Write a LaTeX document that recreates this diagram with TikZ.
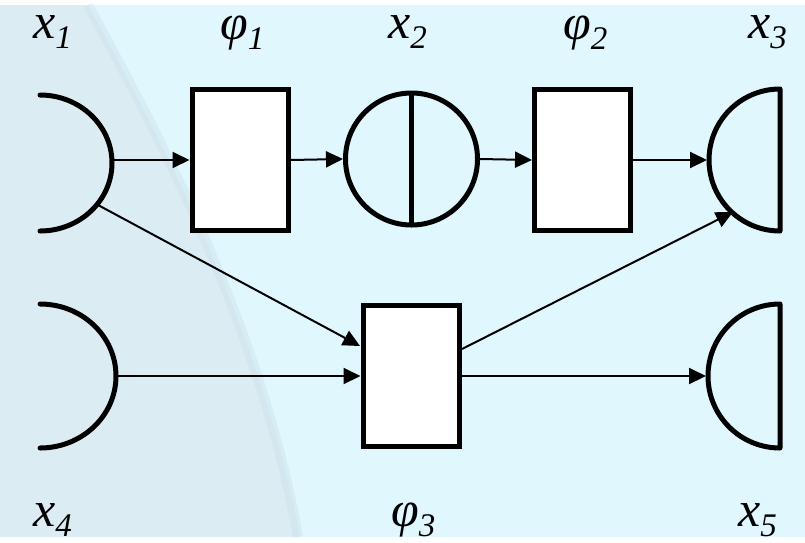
\documentclass[tikz,border=0pt]{standalone}
\usepackage{fontspec}
\setmainfont{Liberation Serif}
\usetikzlibrary{arrows.meta}
\definecolor{bgcyan}{RGB}{223,247,253}
\definecolor{moon}{RGB}{219,237,243}
\definecolor{moonedge}{RGB}{196,216,228}
\newcommand{\mylab}[2]{{\fontsize{50}{50}\selectfont\itshape #1\raisebox{-10pt}{\fontsize{33}{33}\selectfont #2}}}
\begin{document}
\begin{tikzpicture}[x=1pt,y=-1pt,
  proc/.style={draw,fill=white,rectangle,line width=5pt,minimum width=96pt,minimum height=141pt,inner sep=0pt},
  mid/.style={draw,circle,line width=5pt,minimum size=132pt,inner sep=0pt},
  shp/.style={line width=5pt,line cap=round,line join=round},
  conn/.style={line width=2pt,-{Triangle[length=17pt,width=16pt]}},
  lab/.style={anchor=base west,inner sep=0pt}]
% background
\fill[bgcyan] (0,0) rectangle (805,532);
\fill[moon] (0,0) -- (88,0) .. controls (170,150) and (262,330) .. (300,532) -- (0,532) -- cycle;
\draw[moonedge,line width=10pt,opacity=0.3] (88,0) .. controls (170,150) and (262,330) .. (298,532);
\useasboundingbox (0,0) rectangle (805,532);
% processes
\node[proc] (p1) at (240,155) {};
\node[proc] (p2) at (582.5,155) {};
\node[proc] (p3) at (411,370.5) {};
\node[mid] (x2) at (411.5,154) {};
\draw[line width=4.5pt] (411.5,88) -- (411.5,220);
% sources
\coordinate (x1c) at (40,158);
\draw[shp] (40,226) arc[start angle=90,end angle=-90,x radius=72,y radius=68];
\coordinate (x1) at (114,157);
\coordinate (x1d) at (98,200);
\coordinate (x4c) at (40,371);
\draw[shp] (40,443) arc[start angle=90,end angle=-90,x radius=76,y radius=72];
\coordinate (x4) at (118,371);
% sinks
\draw[shp] (780,84) arc[start angle=-90,end angle=-270,radius=71] -- cycle;
\coordinate (x3) at (707,155);
\coordinate (x3d) at (733,207);
\draw[shp] (780,299) arc[start angle=-90,end angle=-270,radius=72] -- cycle;
\coordinate (x5) at (706,371);
% connectors
\draw[conn] (x1 |- p1) -- (p1.west);
\draw[conn] (p1.east) -- (x2.west);
\draw[conn] (x2.east) -- (p2.west);
\draw[conn] (p2.east) -- (x3);
\coordinate (p3a) at (360,341);
\coordinate (p3b) at (462,344);
\draw[conn] (x1d) -- (p3a);
\draw[conn] (x4) -- (x4 -| p3.west);
\draw[conn] (p3b) -- (x3d);
\draw[conn] (p3.east |- x5) -- (x5);
% labels
\node[lab] (lx1) at (33,33) {\mylab{x}{1}};
\node[lab] (lp1) at (220,34) {\mylab{φ}{1}};
\node[lab] (lx2) at (388,33) {\mylab{x}{2}};
\node[lab] (lp2) at (563,34) {\mylab{φ}{2}};
\node[lab] (lx3) at (748,33) {\mylab{x}{3}};
\node[lab] (lx4) at (33,521) {\mylab{x}{4}};
\node[lab] (lp3) at (391,521) {\mylab{φ}{3}};
\node[lab] (lx5) at (738,521) {\mylab{x}{5}};
\end{tikzpicture}
\end{document}
